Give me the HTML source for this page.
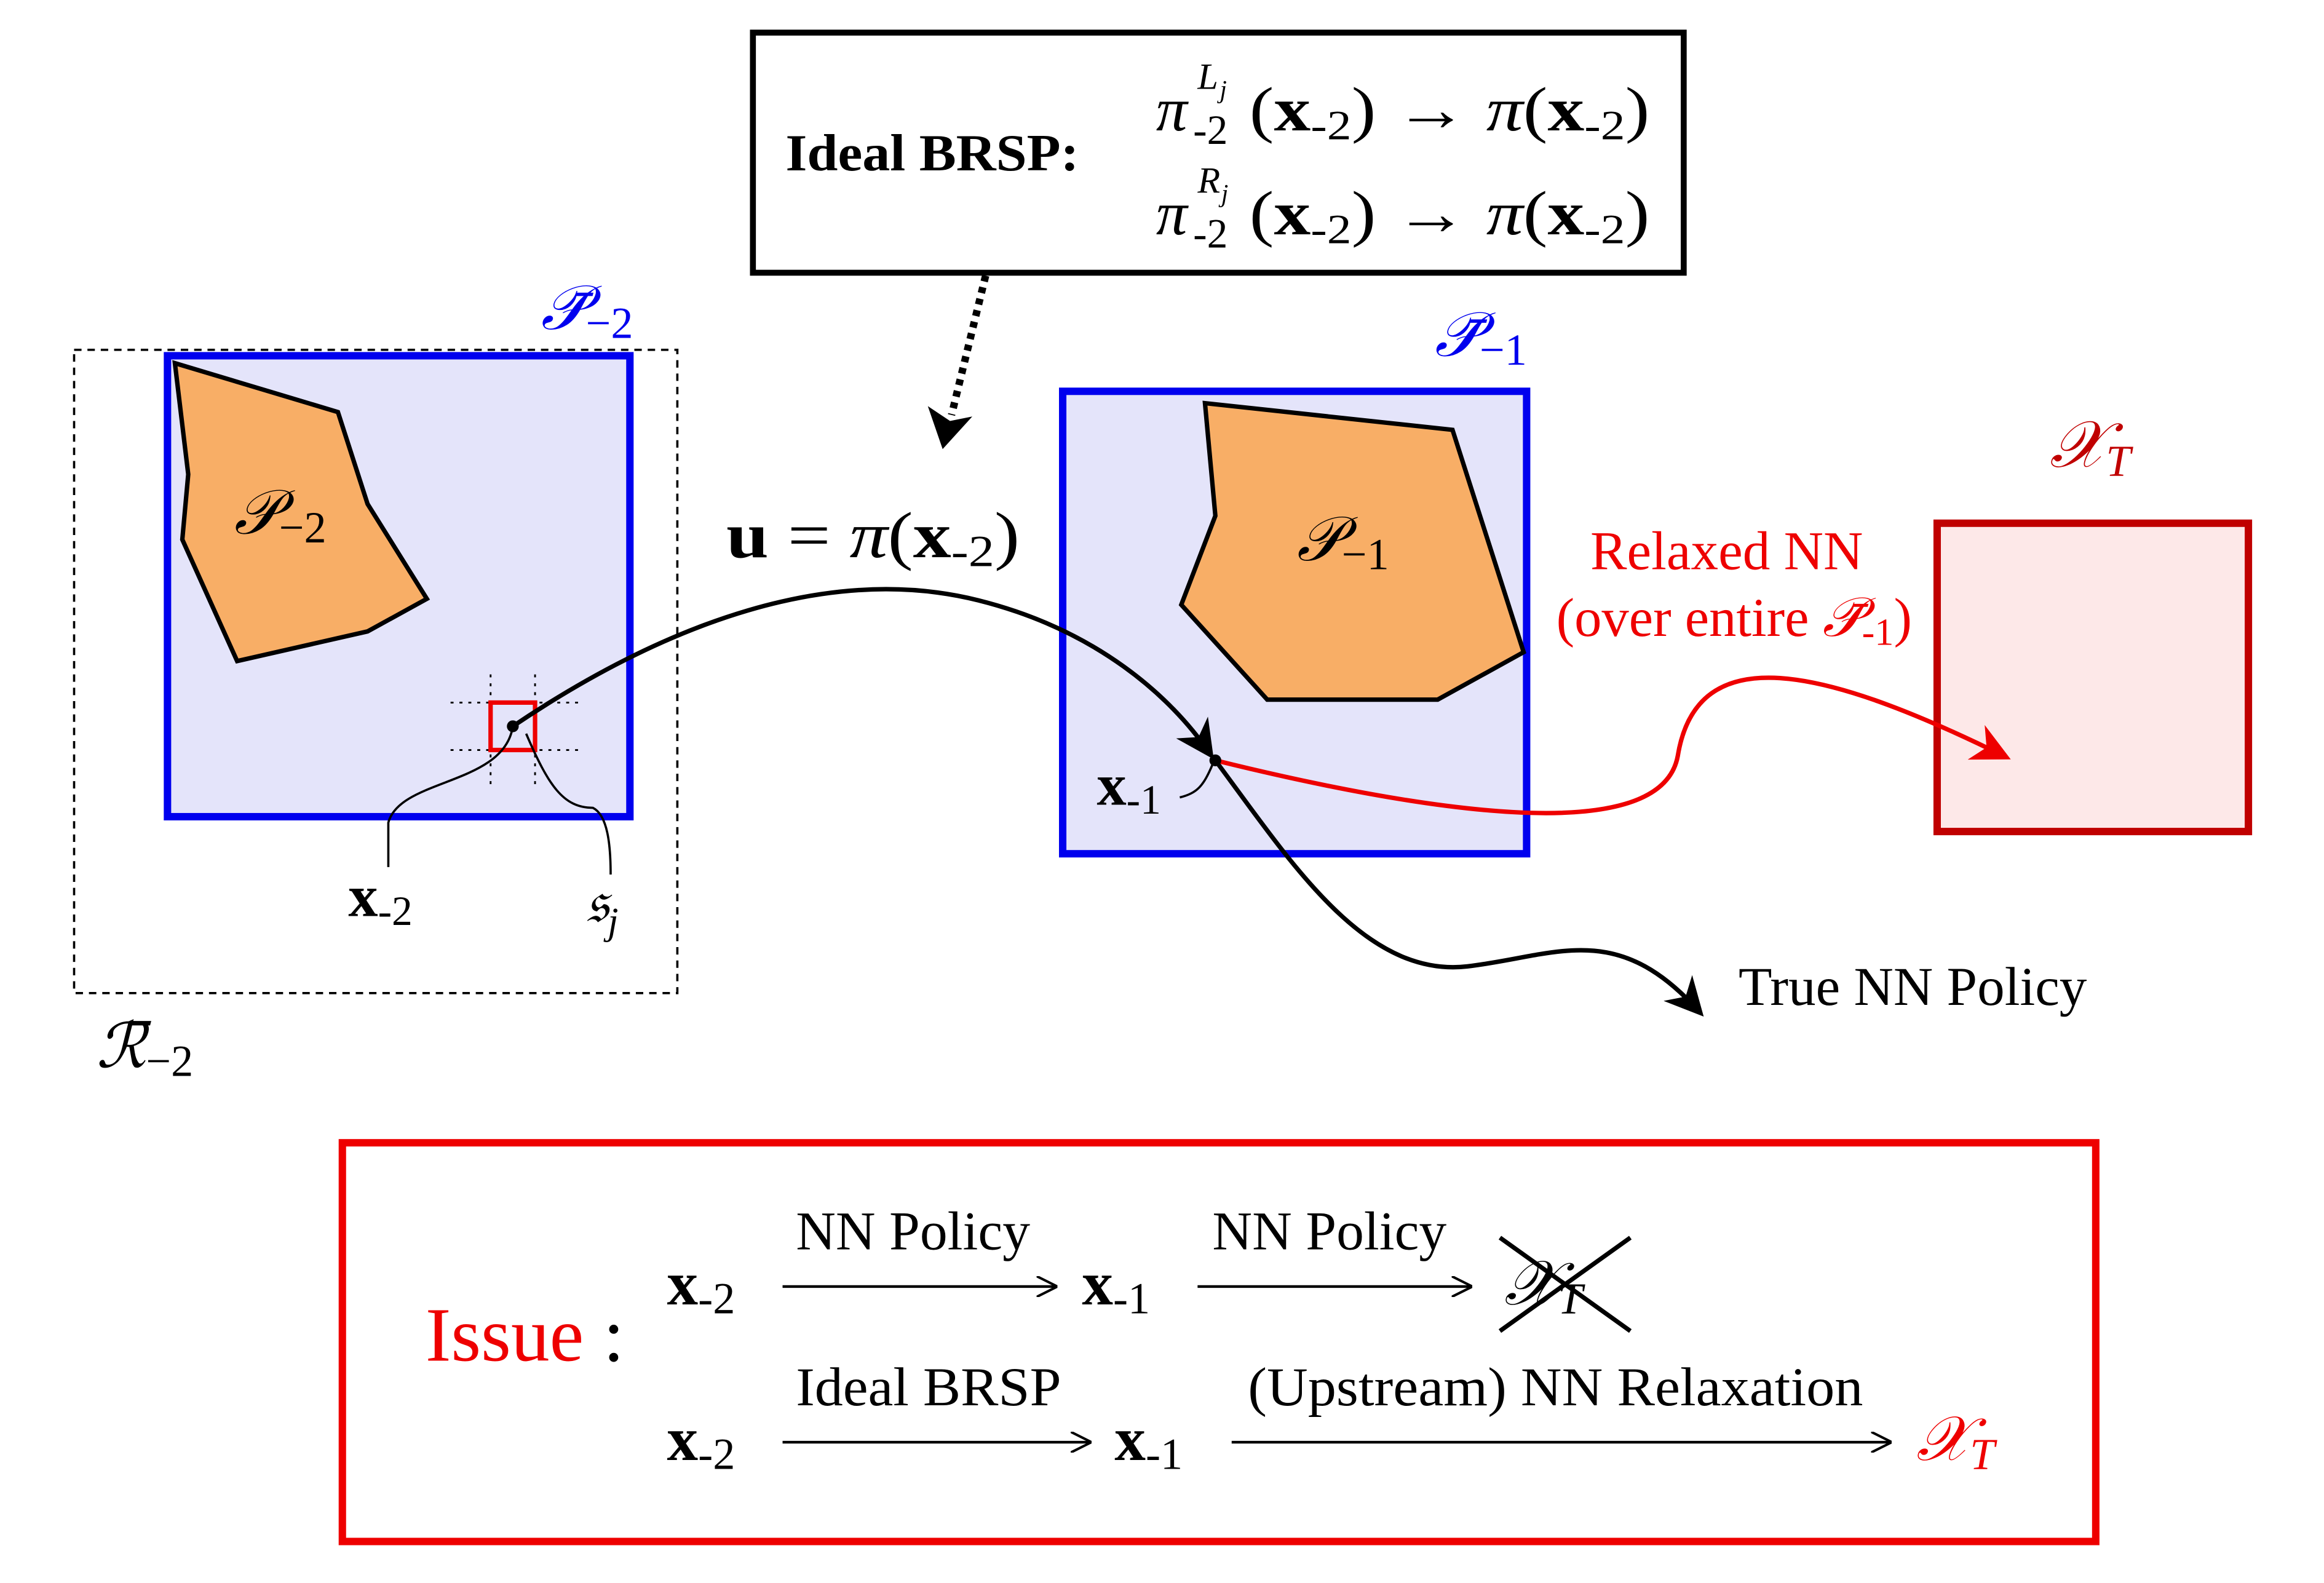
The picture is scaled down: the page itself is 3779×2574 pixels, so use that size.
<!DOCTYPE html>
<html><head><meta charset="utf-8"><style>
html,body{margin:0;padding:0;background:#fff}
svg{display:block}
text{font-family:"Liberation Serif","DejaVu Serif",serif}
</style></head><body>
<svg width="3779" height="2574" viewBox="0 0 1568 1068" xmlns="http://www.w3.org/2000/svg">
<defs>
<marker id="ahb" viewBox="0 0 10 10" refX="8" refY="5" markerWidth="26" markerHeight="26" orient="auto" markerUnits="userSpaceOnUse"><path d="M0,0 L10,5 L0,10 L3,5 z" fill="#000"/></marker>
<marker id="ahr" viewBox="0 0 10 10" refX="8" refY="5" markerWidth="26" markerHeight="26" orient="auto" markerUnits="userSpaceOnUse"><path d="M0,0 L10,5 L0,10 L3,5 z" fill="#e00"/></marker>
<marker id="sa" viewBox="0 0 10 10" refX="9" refY="5" markerWidth="14" markerHeight="14" orient="auto" markerUnits="userSpaceOnUse"><path d="M0,0 L10,5 L0,10" fill="none" stroke="#000" stroke-width="1.2"/></marker>
</defs>
<rect width="1568" height="1068" fill="#fff"/>

<!-- top box -->
<rect x="508" y="22" width="628" height="162" fill="#fff" stroke="#000" stroke-width="4"/>
<text x="530" y="115" font-size="35" font-weight="bold" textLength="198" lengthAdjust="spacingAndGlyphs">Ideal BRSP:</text>
<g font-size="42">
<text x="780" y="88" font-style="italic">π</text>
<text x="808" y="60" font-size="25" font-style="italic">L</text><text x="823" y="66" font-size="17" font-style="italic">j</text>
<text x="805" y="97" font-size="28">-2</text>
<text x="843" y="88" textLength="270" lengthAdjust="spacingAndGlyphs">(<tspan font-weight="bold">x</tspan><tspan font-size="28" dy="6">-2</tspan><tspan dy="-6">) → </tspan><tspan font-style="italic">π</tspan>(<tspan font-weight="bold">x</tspan><tspan font-size="28" dy="6">-2</tspan><tspan dy="-6">)</tspan></text>
<text x="780" y="158" font-style="italic">π</text>
<text x="808" y="130" font-size="25" font-style="italic">R</text><text x="824" y="136" font-size="17" font-style="italic">j</text>
<text x="805" y="167" font-size="28">-2</text>
<text x="843" y="158" textLength="270" lengthAdjust="spacingAndGlyphs">(<tspan font-weight="bold">x</tspan><tspan font-size="28" dy="6">-2</tspan><tspan dy="-6">) → </tspan><tspan font-style="italic">π</tspan>(<tspan font-weight="bold">x</tspan><tspan font-size="28" dy="6">-2</tspan><tspan dy="-6">)</tspan></text>
</g>
<!-- dotted arrow -->
<line x1="665" y1="186" x2="642" y2="280" stroke="#000" stroke-width="5" stroke-dasharray="4,4"/>
<path d="M626,274 L636,303 L656,281 L641,284 z" fill="#000"/>

<!-- left region -->
<rect x="50" y="236" width="407" height="434" fill="none" stroke="#000" stroke-width="1.5" stroke-dasharray="5,4"/>
<rect x="113" y="240" width="312" height="311" fill="#e4e4fa" stroke="#0000ee" stroke-width="5"/>
<polygon points="118,245 228,278 248,340 288,404 248,426 160,446 123,364 127,320" fill="#f8ae66" stroke="#000" stroke-width="3"/>
<text x="158" y="360" font-size="42" font-style="italic">𝒫<tspan font-size="30" font-style="normal" dy="6">−2</tspan></text>
<text x="365" y="222" font-size="42" fill="#0000ee" font-style="italic">𝒫̄<tspan font-size="30" font-style="normal" dy="6">−2</tspan></text>
<g stroke="#000" stroke-width="1.2" stroke-dasharray="2,4">
<line x1="304" y1="474" x2="390" y2="474"/><line x1="304" y1="506" x2="390" y2="506"/>
<line x1="331" y1="455" x2="331" y2="530"/><line x1="361" y1="455" x2="361" y2="530"/>
</g>
<rect x="331" y="474" width="30" height="32" fill="none" stroke="#e00" stroke-width="3"/>
<path d="M346,490 C340,530 270,525 262,555 L262,585" fill="none" stroke="#000" stroke-width="1.5"/>
<path d="M355,495 C370,530 380,545 400,545 C410,550 412,570 412,590" fill="none" stroke="#000" stroke-width="1.5"/>
<text x="235" y="618" font-size="40"><tspan font-weight="bold">x</tspan><tspan font-size="28" dy="6">-2</tspan></text>
<text x="395" y="622" font-size="40" font-style="italic">𝔰<tspan font-size="26" dy="8">j</tspan></text>
<text x="65" y="720" font-size="42" font-style="italic">ℛ̄<tspan font-size="30" font-style="normal" dy="6">−2</tspan></text>

<!-- middle -->
<rect x="717" y="264" width="313" height="312" fill="#e4e4fa" stroke="#0000ee" stroke-width="5"/>
<polygon points="813,272 980,290 1028,440 970,472 855,472 797,408 820,348" fill="#f8ae66" stroke="#000" stroke-width="3"/>
<text x="875" y="378" font-size="42" font-style="italic">𝒫<tspan font-size="30" font-style="normal" dy="6">−1</tspan></text>
<text x="968" y="240" font-size="42" fill="#0000ee" font-style="italic">𝒫̄<tspan font-size="30" font-style="normal" dy="6">−1</tspan></text>

<!-- target -->
<rect x="1307" y="353" width="210" height="208" fill="#fde8e8" stroke="#c00000" stroke-width="5"/>
<text x="1383" y="315" font-size="44" fill="#c00000" font-style="italic">𝒳<tspan font-size="30" dy="6">T</tspan></text>

<!-- curves on top -->
<path d="M346,490 C450,420 560,380 660,405 C740,425 790,470 816,508" fill="none" stroke="#000" stroke-width="3" marker-end="url(#ahb)"/>
<circle cx="346" cy="490" r="4" fill="#000"/>
<path d="M820,513 C870,580 920,660 990,652 C1050,645 1090,620 1146,682" fill="none" stroke="#000" stroke-width="3" marker-end="url(#ahb)"/>
<path d="M820,513 C950,545 1120,575 1132,510 C1145,430 1230,450 1352,510" fill="none" stroke="#e00" stroke-width="3" marker-end="url(#ahr)"/>
<circle cx="820" cy="513" r="4" fill="#000"/>
<path d="M818,516 C812,530 808,535 796,538" fill="none" stroke="#000" stroke-width="1.5"/>
<text x="740" y="543" font-size="40"><tspan font-weight="bold">x</tspan><tspan font-size="28" dy="6">-1</tspan></text>

<text x="490" y="376" font-size="44" textLength="198" lengthAdjust="spacingAndGlyphs"><tspan font-weight="bold">u</tspan> = <tspan font-style="italic">π</tspan>(<tspan font-weight="bold">x</tspan><tspan font-size="30" dy="6">-2</tspan><tspan dy="-6">)</tspan></text>
<text x="1073" y="384" font-size="37" fill="#e00" textLength="184" lengthAdjust="spacingAndGlyphs">Relaxed NN</text>
<text x="1050" y="429" font-size="37" fill="#e00" textLength="240" lengthAdjust="spacingAndGlyphs">(over entire <tspan font-style="italic">𝒫̄</tspan><tspan font-size="26" dy="6">-1</tspan><tspan dy="-6">)</tspan></text>
<text x="1173" y="678" font-size="37" textLength="235" lengthAdjust="spacingAndGlyphs">True NN Policy</text>

<!-- bottom box -->
<rect x="231" y="771" width="1183" height="269" fill="#fff" stroke="#ee0000" stroke-width="5"/>
<text x="287" y="918" font-size="52" fill="#ee0000">Issue <tspan fill="#000">:</tspan></text>
<g font-size="42">
<text x="450" y="880"><tspan font-weight="bold">x</tspan><tspan font-size="30" dy="6">-2</tspan></text>
<text x="730" y="880"><tspan font-weight="bold">x</tspan><tspan font-size="30" dy="6">-1</tspan></text>
<text x="1015" y="880" font-style="italic">𝒳<tspan font-size="30" dy="6">T</tspan></text>
<text x="450" y="985"><tspan font-weight="bold">x</tspan><tspan font-size="30" dy="6">-2</tspan></text>
<text x="752" y="985"><tspan font-weight="bold">x</tspan><tspan font-size="30" dy="6">-1</tspan></text>
<text x="1293" y="985" fill="#ee0000" font-style="italic">𝒳<tspan font-size="30" dy="6">T</tspan></text>
</g>
<g font-size="37">
<text x="537" y="843" textLength="158" lengthAdjust="spacingAndGlyphs">NN Policy</text>
<text x="818" y="843" textLength="158" lengthAdjust="spacingAndGlyphs">NN Policy</text>
<text x="537" y="948" textLength="179" lengthAdjust="spacingAndGlyphs">Ideal BRSP</text>
<text x="842" y="948" textLength="415" lengthAdjust="spacingAndGlyphs">(Upstream) NN Relaxation</text>
</g>
<g stroke="#000" stroke-width="1.8" fill="none">
<line x1="528" y1="868" x2="712" y2="868" marker-end="url(#sa)"/>
<line x1="808" y1="868" x2="992" y2="868" marker-end="url(#sa)"/>
<line x1="528" y1="973" x2="735" y2="973" marker-end="url(#sa)"/>
<line x1="831" y1="973" x2="1275" y2="973" marker-end="url(#sa)"/>
</g>
<line x1="1012" y1="835" x2="1100" y2="898" stroke="#000" stroke-width="3"/>
<line x1="1100" y1="835" x2="1012" y2="898" stroke="#000" stroke-width="3"/>
</svg>
</body></html>
